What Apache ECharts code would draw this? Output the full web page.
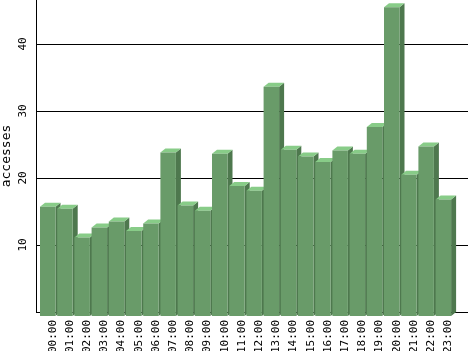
<!DOCTYPE html>
<html>
<head>
<meta charset="utf-8">
<script src="https://cdn.jsdelivr.net/npm/echarts@6/dist/echarts.min.js"></script>
<style>
  html, body { margin: 0; padding: 0; background: #fff; }
  #chart { width: 468px; height: 351px; }
</style>
</head>
<body>
<div id="chart"></div>
<script>
// accesses per hour of day
var hours = ['00:00', '01:00', '02:00', '03:00', '04:00', '05:00', '06:00', '07:00',
             '08:00', '09:00', '10:00', '11:00', '12:00', '13:00', '14:00', '15:00',
             '16:00', '17:00', '18:00', '19:00', '20:00', '21:00', '22:00', '23:00'];
var accesses = [16.3, 16.0, 11.7, 13.2, 14.1, 12.7, 13.8, 24.4, 16.5, 15.7, 24.2, 19.4,
                18.7, 34.2, 24.8, 23.8, 23.0, 24.7, 24.2, 28.2, 46.1, 21.1, 25.3, 17.4];

var myChart = echarts.init(document.getElementById('chart'));

// depth of the fake 3d bars (pixels)
var DX = 5, DY = 4, HALF = 7.75;
var mono = 'DejaVu Sans Mono';

function renderBar(params, api) {
    var top = api.coord([api.value(0), api.value(1)]);
    var base = api.coord([api.value(0), 0]);
    var bl = top[0] - HALF, br = top[0] + HALF;
    var fl = bl - DX, fr = br - DX;
    var bt = top[1], ft = top[1] + DY;
    var bb = base[1], fb = base[1] + DY;
    return {
        type: 'group',
        children: [
            { type: 'polygon', shape: { points: [[fr, ft], [br, bt], [br, bb], [fr, fb]] },
              style: { fill: '#4e784e' } },
            { type: 'polygon', shape: { points: [[fl, ft], [bl, bt], [br, bt], [fr, ft]] },
              style: { fill: '#88cc88' } },
            { type: 'rect', shape: { x: fl, y: ft, width: HALF * 2, height: fb - ft },
              style: { fill: '#699b69' } }
        ]
    };
}

option = {
    animation: false,
    grid: [
        { left: 36, right: 0, top: -23, bottom: 39, containLabel: false, outerBoundsMode: 'none' },
        { left: 44.15, right: 11.05, top: -23, bottom: 39, containLabel: false, outerBoundsMode: 'none' }
    ],
    // axis title, centred on the visible part of the plot
    graphic: {
        type: 'text',
        x: 7, y: 156,
        rotation: Math.PI / 2,
        style: {
            text: 'accesses',
            fill: '#000',
            font: '13px "DejaVu Sans Mono"',
            align: 'center',
            verticalAlign: 'middle'
        }
    },
    xAxis: [
        { type: 'value', gridIndex: 0, show: false },
        {
            type: 'category', gridIndex: 1, data: hours,
            axisLine: { show: false }, axisTick: { show: false },
            axisLabel: { rotate: 90, margin: 8, color: '#000', fontFamily: mono, fontSize: 11, interval: 0 }
        }
    ],
    yAxis: [
        {
            type: 'value', gridIndex: 0, min: 0, max: 50, interval: 10,
            axisLine: { show: true, lineStyle: { color: '#000', width: 1 } },
            axisTick: { show: false },
            axisLabel: { rotate: 90, margin: 7, color: '#000', fontFamily: mono, fontSize: 11, showMinLabel: false },
            splitLine: { show: true, lineStyle: { color: '#000', width: 1 } }
        },
        { type: 'value', gridIndex: 1, min: 0, max: 50, show: false, splitLine: { show: false } }
    ],
    series: [
        {
            type: 'custom',
            xAxisIndex: 1,
            yAxisIndex: 1,
            renderItem: renderBar,
            data: accesses.map(function (v, i) { return [i, v]; })
        }
    ]
};

myChart.setOption(option);
</script>
</body>
</html>
